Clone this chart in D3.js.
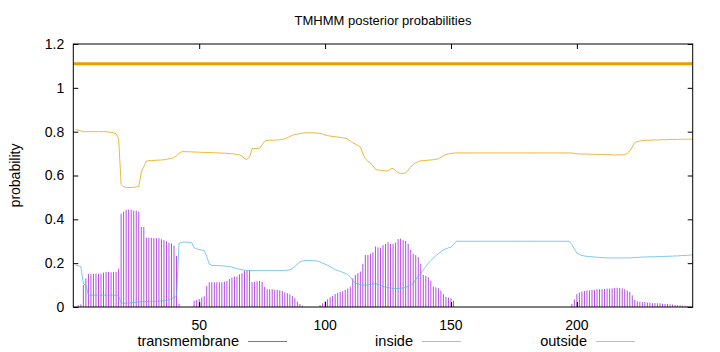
<!DOCTYPE html>
<html>
<head>
<meta charset="utf-8">
<script src="https://cdn.jsdelivr.net/npm/d3@7"></script>
<style>
  body { margin: 0; background: #fff; }
  text { font-family: "Liberation Sans", Arial, sans-serif; fill: #000; }
</style>
</head>
<body>
<svg id="chart"></svg>
<script>
// posterior probabilities per residue (1..246)
const tmProb = [
  0, 0.008, 0.012, 0.1, 0.13, 0.151, 0.151, 0.151, 0.152, 0.151,
  0.152, 0.157, 0.16, 0.16, 0.158, 0.16, 0.16, 0.175, 0.426, 0.435,
  0.444, 0.444, 0.444, 0.44, 0.44, 0.435, 0.365, 0.365, 0.316, 0.316,
  0.315, 0.314, 0.314, 0.314, 0.309, 0.305, 0.3, 0.293, 0.29, 0.28,
  0.233, 0.015, 0, 0, 0, 0, 0, 0.029, 0.032, 0.037,
  0.043, 0.049, 0.096, 0.113, 0.113, 0.113, 0.113, 0.113, 0.113, 0.116,
  0.119, 0.128, 0.134, 0.139, 0.139, 0.149, 0.154, 0.166, 0.166, 0.166,
  0.114, 0.114, 0.117, 0.119, 0.114, 0.092, 0.081, 0.081, 0.081, 0.079,
  0.078, 0.076, 0.073, 0.067, 0.063, 0.058, 0.05, 0.04, 0.024, 0.014,
  0.006, 0, 0, 0, 0, 0, 0, 0.009, 0.017, 0.027,
  0.035, 0.044, 0.05, 0.059, 0.065, 0.069, 0.072, 0.078, 0.084, 0.093,
  0.13, 0.146, 0.154, 0.162, 0.197, 0.237, 0.237, 0.243, 0.249, 0.276,
  0.272, 0.27, 0.282, 0.288, 0.296, 0.288, 0.288, 0.294, 0.31, 0.312,
  0.305, 0.301, 0.288, 0.261, 0.243, 0.237, 0.227, 0.197, 0.146, 0.142,
  0.136, 0.12, 0.094, 0.09, 0.086, 0.075, 0.059, 0.046, 0.043, 0.04,
  0.029, 0, 0, 0, 0, 0, 0, 0, 0, 0,
  0, 0, 0, 0, 0, 0, 0, 0, 0, 0,
  0, 0, 0, 0, 0, 0, 0, 0, 0, 0,
  0, 0, 0, 0, 0, 0, 0, 0, 0, 0,
  0, 0, 0, 0, 0, 0, 0, 0.014, 0.035, 0.059,
  0.066, 0.07, 0.073, 0.075, 0.076, 0.078, 0.078, 0.081, 0.081, 0.081,
  0.082, 0.084, 0.084, 0.085, 0.087, 0.088, 0.087, 0.085, 0.081, 0.075,
  0.069, 0.053, 0.032, 0.026, 0.024, 0.023, 0.023, 0.02, 0.02, 0.018,
  0.018, 0.017, 0.017, 0.015, 0.014, 0.014, 0.012, 0.011, 0.009, 0.008,
  0.008, 0.006, 0.005, 0.003, 0.002, 0.002
];

const insideProb = [
  0.19, 0.188, 0.185, 0.105, 0.1, 0.055, 0.054, 0.054, 0.054, 0.054,
  0.054, 0.054, 0.054, 0.054, 0.054, 0.054, 0.053, 0.05, 0.02, 0.017,
  0.017, 0.018, 0.019, 0.02, 0.022, 0.023, 0.024, 0.024, 0.025, 0.025,
  0.026, 0.026, 0.026, 0.027, 0.027, 0.028, 0.03, 0.033, 0.038, 0.043,
  0.05, 0.29, 0.295, 0.296, 0.296, 0.295, 0.293, 0.27, 0.265, 0.262,
  0.26, 0.258, 0.23, 0.195, 0.19, 0.189, 0.189, 0.188, 0.188, 0.187,
  0.186, 0.185, 0.182, 0.178, 0.176, 0.172, 0.17, 0.168, 0.166, 0.166,
  0.166, 0.166, 0.166, 0.166, 0.166, 0.166, 0.166, 0.166, 0.166, 0.166,
  0.166, 0.166, 0.166, 0.167, 0.168, 0.17, 0.175, 0.185, 0.197, 0.205,
  0.21, 0.212, 0.212, 0.212, 0.212, 0.211, 0.209, 0.206, 0.2, 0.195,
  0.19, 0.184, 0.177, 0.17, 0.166, 0.163, 0.158, 0.154, 0.148, 0.138,
  0.12, 0.11, 0.106, 0.102, 0.1, 0.1, 0.101, 0.103, 0.105, 0.105,
  0.104, 0.1, 0.094, 0.091, 0.089, 0.087, 0.085, 0.084, 0.084, 0.085,
  0.087, 0.09, 0.094, 0.1, 0.108, 0.125, 0.14, 0.154, 0.17, 0.184,
  0.2, 0.212, 0.223, 0.233, 0.243, 0.252, 0.261, 0.265, 0.27, 0.272,
  0.285, 0.3, 0.3, 0.3, 0.3, 0.3, 0.3, 0.3, 0.3, 0.3,
  0.3, 0.3, 0.3, 0.3, 0.3, 0.3, 0.3, 0.3, 0.3, 0.3,
  0.3, 0.3, 0.3, 0.3, 0.3, 0.3, 0.3, 0.3, 0.3, 0.3,
  0.3, 0.3, 0.3, 0.3, 0.3, 0.3, 0.3, 0.3, 0.3, 0.3,
  0.3, 0.3, 0.3, 0.3, 0.3, 0.3, 0.3, 0.285, 0.265, 0.246,
  0.24, 0.235, 0.233, 0.231, 0.23, 0.229, 0.228, 0.227, 0.226, 0.225,
  0.225, 0.224, 0.224, 0.224, 0.224, 0.224, 0.224, 0.224, 0.224, 0.224,
  0.224, 0.225, 0.226, 0.226, 0.227, 0.228, 0.228, 0.229, 0.229, 0.229,
  0.229, 0.23, 0.23, 0.23, 0.231, 0.231, 0.232, 0.232, 0.233, 0.233,
  0.234, 0.235, 0.235, 0.236, 0.237, 0.238
];

const outsideProb = [
  0.81, 0.807, 0.803, 0.8, 0.8, 0.8, 0.8, 0.8, 0.8, 0.8,
  0.8, 0.8, 0.8, 0.798, 0.797, 0.795, 0.79, 0.77, 0.56, 0.548,
  0.546, 0.545, 0.546, 0.546, 0.548, 0.55, 0.615, 0.64, 0.665, 0.668,
  0.668, 0.669, 0.67, 0.67, 0.671, 0.672, 0.674, 0.676, 0.678, 0.682,
  0.69, 0.7, 0.708, 0.709, 0.709, 0.708, 0.708, 0.707, 0.707, 0.706,
  0.706, 0.705, 0.705, 0.705, 0.704, 0.704, 0.703, 0.703, 0.702, 0.702,
  0.701, 0.7, 0.699, 0.698, 0.696, 0.694, 0.688, 0.678, 0.673, 0.685,
  0.722, 0.723, 0.724, 0.725, 0.74, 0.757, 0.76, 0.761, 0.761, 0.761,
  0.762, 0.763, 0.765, 0.767, 0.772, 0.778, 0.783, 0.787, 0.789, 0.791,
  0.793, 0.794, 0.795, 0.795, 0.795, 0.794, 0.793, 0.792, 0.789, 0.785,
  0.782, 0.78, 0.778, 0.777, 0.775, 0.774, 0.772, 0.77, 0.766, 0.757,
  0.749, 0.744, 0.737, 0.731, 0.7, 0.676, 0.665, 0.658, 0.645, 0.628,
  0.625, 0.624, 0.622, 0.621, 0.622, 0.63, 0.632, 0.622, 0.612, 0.61,
  0.61, 0.612, 0.625, 0.64, 0.65, 0.658, 0.664, 0.667, 0.668, 0.669,
  0.67, 0.671, 0.672, 0.674, 0.677, 0.683, 0.69, 0.696, 0.698, 0.7,
  0.702, 0.703, 0.703, 0.703, 0.703, 0.703, 0.703, 0.703, 0.703, 0.703,
  0.703, 0.703, 0.703, 0.703, 0.703, 0.703, 0.703, 0.703, 0.703, 0.703,
  0.703, 0.703, 0.703, 0.703, 0.703, 0.703, 0.703, 0.703, 0.703, 0.703,
  0.703, 0.703, 0.703, 0.703, 0.703, 0.703, 0.703, 0.703, 0.703, 0.703,
  0.703, 0.703, 0.703, 0.703, 0.703, 0.703, 0.703, 0.703, 0.7, 0.699,
  0.699, 0.698, 0.698, 0.698, 0.697, 0.697, 0.697, 0.696, 0.696, 0.696,
  0.695, 0.695, 0.695, 0.694, 0.694, 0.694, 0.694, 0.694, 0.695, 0.7,
  0.712, 0.73, 0.75, 0.755, 0.757, 0.759, 0.76, 0.761, 0.761, 0.762,
  0.762, 0.762, 0.763, 0.763, 0.763, 0.764, 0.764, 0.764, 0.764, 0.765,
  0.765, 0.765, 0.765, 0.766, 0.766, 0.766
];

// predicted topology drawn above the curves
const topology = [{from: 0, to: 246, region: "outside"}];
const topologyLevel = 1.11;

const xTicks = [50, 100, 150, 200];
const yTicks = [0, 0.2, 0.4, 0.6, 0.8, 1, 1.2];
const yTickLabels = ["0", "0.2", "0.4", "0.6", "0.8", "1", "1.2"];
const seriesNames = ["transmembrane", "inside", "outside"];
const colors = {transmembrane: "#9400d3", inside: "#56b4e9", outside: "#e69f00"};

const width = 720, height = 352;
const margin = {top: 44, right: 27.3, bottom: 45, left: 73.3};
const innerW = width - margin.left - margin.right;
const innerH = height - margin.top - margin.bottom;

const svg = d3.select('#chart')
    .attr('width', width)
    .attr('height', height);

const residues = d3.range(1, tmProb.length + 1);

const x = d3.scaleLinear().domain([0, 246]).range([margin.left, margin.left + innerW]);
const y = d3.scaleLinear().domain([0, 1.2]).range([margin.top + innerH, margin.top]);

// title and y label
svg.append('text')
    .attr('x', margin.left + innerW / 2)
    .attr('y', 25)
    .attr('text-anchor', 'middle')
    .style('font-size', '13px')
    .text('TMHMM posterior probabilities');

svg.append('text')
    .attr('transform', 'translate(20,' + (margin.top + innerH / 2) + ') rotate(-90)')
    .attr('text-anchor', 'middle')
    .style('font-size', '14px')
    .text('probability');

// tm impulses
svg.append('g')
    .selectAll('line')
    .data(residues)
    .enter()
    .append('line')
    .attr('x1', d => x(d))
    .attr('x2', d => x(d))
    .attr('y1', y(0))
    .attr('y2', d => y(tmProb[d - 1]))
    .attr('stroke', colors.transmembrane)
    .attr('stroke-opacity', 0.7)
    .attr('stroke-width', 1);

// inside and outside lines
const line = d3.line().x(d => x(d[0])).y(d => y(d[1]));
[['inside', insideProb], ['outside', outsideProb]].forEach(function(s) {
  svg.append('path')
      .datum(residues.map(r => [r, s[1][r - 1]]))
      .attr('fill', 'none')
      .attr('stroke', colors[s[0]])
      .attr('stroke-opacity', 0.75)
      .attr('stroke-width', 1)
      .attr('d', line);
});

// topology bar
svg.append('g')
    .selectAll('line')
    .data(topology)
    .enter()
    .append('line')
    .attr('x1', d => x(d.from))
    .attr('x2', d => x(d.to))
    .attr('y1', y(topologyLevel))
    .attr('y2', y(topologyLevel))
    .attr('stroke', d => colors[d.region])
    .attr('stroke-width', 3);

// frame
svg.append('rect')
    .attr('x', margin.left)
    .attr('y', margin.top)
    .attr('width', innerW)
    .attr('height', innerH)
    .attr('fill', 'none')
    .attr('stroke', '#000')
    .attr('stroke-width', 1);

// y axis (ticks inward, mirrored on the right)
svg.append('g')
    .attr('transform', 'translate(' + margin.left + ',0)')
    .call(d3.axisRight(y).tickValues(yTicks).tickSize(5).tickFormat(''))
    .call(g => g.select('.domain').remove());
svg.append('g')
    .attr('transform', 'translate(' + (margin.left + innerW) + ',0)')
    .call(d3.axisLeft(y).tickValues(yTicks).tickSize(5).tickFormat(''))
    .call(g => g.select('.domain').remove());
yTicks.forEach(function(t, i) {
  svg.append('text')
      .attr('x', margin.left - 9)
      .attr('y', y(t))
      .attr('dy', '0.35em')
      .attr('text-anchor', 'end')
      .style('font-size', '14px')
      .text(yTickLabels[i]);
});

// x axis
svg.append('g')
    .attr('transform', 'translate(0,' + (margin.top + innerH) + ')')
    .call(d3.axisTop(x).tickValues(xTicks).tickSize(5).tickFormat(''))
    .call(g => g.select('.domain').remove());
svg.append('g')
    .attr('transform', 'translate(0,' + margin.top + ')')
    .call(d3.axisBottom(x).tickValues(xTicks).tickSize(5).tickFormat(''))
    .call(g => g.select('.domain').remove());
xTicks.forEach(function(t) {
  svg.append('text')
      .attr('x', x(t))
      .attr('y', margin.top + innerH + 23)
      .attr('text-anchor', 'middle')
      .style('font-size', '14px')
      .text(t);
});

// legend
const legendEnds = [239, 413, 587];
seriesNames.forEach(function(name, i) {
  const lx = legendEnds[i];
  svg.append('text')
      .attr('x', lx)
      .attr('y', 346)
      .attr('text-anchor', 'end')
      .style('font-size', '14.5px')
      .text(name);
  svg.append('line')
      .attr('x1', lx + 9)
      .attr('x2', lx + 48)
      .attr('y1', 341.5)
      .attr('y2', 341.5)
      .attr('stroke', colors[name])
      .attr('stroke-opacity', 0.7)
      .attr('stroke-width', 1);
});
</script>
</body>
</html>
